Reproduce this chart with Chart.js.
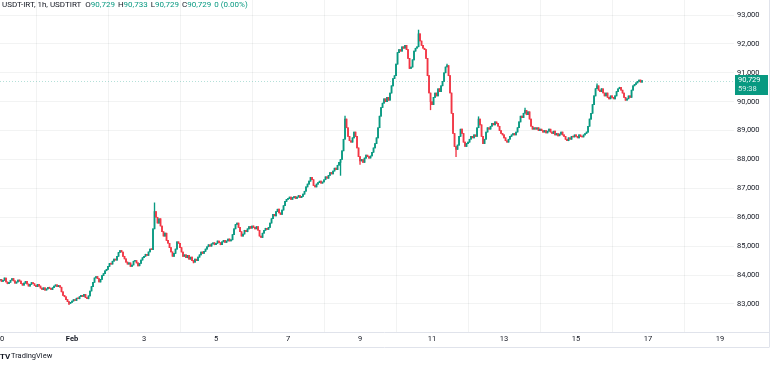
<!DOCTYPE html>
<html>
<head>
<meta charset="utf-8">
<script src="https://cdn.jsdelivr.net/npm/chart.js@4.4.1/dist/chart.umd.min.js"></script>
<style>
    html, body { margin: 0; padding: 0; background: #fff; }
    #wrap { position: relative; width: 781px; height: 365px; }
</style>
</head>
<body>
<div id="wrap"><canvas id="candles" width="781" height="365"></canvas></div>
<script>
// x axis is in hours from Jan 30 00:00, one candle per hour
const tickHours = [0, 48, 96, 144, 192, 240, 288, 336, 384, 432, 480];
const tickLabels = ['30', 'Feb', '3', '5', '7', '9', '11', '13', '15', '17', '19'];
const priceTicks = [83000, 84000, 85000, 86000, 87000, 88000, 89000, 90000, 91000, 92000, 93000];

// hourly closes, one row per day (Jan 30 .. Feb 16)
const jan30 = [83850, 83780, 83820, 83900, 83760, 83700, 83750, 83820, 83880, 83800, 83720, 83760, 83830, 83790, 83700, 83650, 83720, 83780, 83690, 83620, 83680, 83740, 83700, 83640];
const jan31 = [83600, 83680, 83620, 83550, 83500, 83560, 83480, 83520, 83580, 83540, 83500, 83560, 83620, 83660, 83600, 83640, 83580, 83420, 83300, 83250, 83150, 83080, 83020, 83050];
const feb01 = [83100, 83150, 83120, 83200, 83180, 83250, 83300, 83260, 83330, 83220, 83180, 83280, 83450, 83600, 83750, 83900, 83950, 83880, 83760, 83850, 83980, 84050, 84150, 84200];
const feb02 = [84300, 84400, 84380, 84480, 84550, 84520, 84650, 84780, 84850, 84800, 84650, 84560, 84450, 84380, 84420, 84300, 84350, 84480, 84500, 84420, 84320, 84400, 84520, 84600];
const feb03 = [84650, 84720, 84680, 84800, 84900, 84880, 85600, 86200, 86000, 85800, 85950, 85700, 85500, 85350, 85450, 85200, 85100, 84950, 84800, 84650, 84750, 84900, 85150, 85100];
const feb04 = [84950, 84800, 84650, 84700, 84600, 84680, 84550, 84620, 84500, 84450, 84550, 84500, 84620, 84700, 84800, 84750, 84820, 84900, 84980, 85050, 85000, 85080, 85120, 85050];
const feb05 = [85100, 85180, 85120, 85050, 85150, 85200, 85130, 85180, 85250, 85180, 85220, 85400, 85600, 85750, 85800, 85650, 85500, 85350, 85420, 85550, 85500, 85600, 85680, 85620];
const feb06 = [85700, 85650, 85600, 85680, 85550, 85350, 85300, 85450, 85550, 85620, 85580, 85650, 85800, 85950, 86100, 86050, 86200, 86280, 86150, 86100, 86250, 86400, 86550, 86620];
const feb07 = [86650, 86700, 86620, 86680, 86720, 86650, 86700, 86750, 86680, 86720, 86800, 86900, 87050, 87150, 87250, 87380, 87300, 87100, 87050, 87150, 87200, 87250, 87180, 87220];
const feb08 = [87300, 87400, 87350, 87450, 87550, 87500, 87600, 87700, 87650, 87800, 87900, 88000, 88300, 88700, 89400, 89100, 88800, 88650, 88600, 88750, 88950, 88800, 88400, 88100];
const feb09 = [87950, 88000, 87900, 88050, 88150, 88100, 88050, 88120, 88250, 88400, 88550, 88750, 89100, 89500, 89800, 89950, 90100, 90000, 90150, 90050, 90300, 90550, 90800, 90900];
const feb10 = [91300, 91700, 91800, 91750, 91900, 91850, 91950, 91800, 91500, 91150, 91200, 91450, 91750, 91850, 91900, 92350, 92100, 91950, 91850, 91800, 91500, 90900, 90300, 90000];
const feb11 = [89900, 90150, 90300, 90200, 90450, 90350, 90550, 90700, 91000, 91200, 91250, 90900, 90300, 89600, 88900, 88450, 88350, 88500, 88800, 89050, 88900, 88600, 88450, 88550];
const feb12 = [88600, 88700, 88800, 88750, 88850, 88800, 89100, 89400, 89200, 88800, 88550, 88700, 88950, 89100, 89050, 89150, 89250, 89200, 89300, 89250, 89150, 89000, 88900, 88850];
const feb13 = [88750, 88650, 88600, 88700, 88800, 88850, 88900, 88850, 88950, 89100, 89300, 89500, 89450, 89600, 89700, 89550, 89650, 89400, 89150, 89050, 89100, 89050, 89100, 89000];
const feb14 = [89050, 89000, 88950, 89000, 88920, 88980, 89050, 88950, 88900, 88980, 88850, 88900, 88820, 88880, 88950, 88850, 88800, 88700, 88650, 88750, 88700, 88800, 88780, 88850];
const feb15 = [88800, 88750, 88850, 88800, 88780, 88850, 88900, 88950, 89150, 89400, 89600, 89900, 90200, 90450, 90550, 90400, 90350, 90450, 90300, 90200, 90300, 90150, 90100, 90200];
const feb16 = [90150, 90100, 90200, 90350, 90450, 90500, 90400, 90300, 90150, 90050, 90100, 90200, 90150, 90400, 90550, 90600, 90650, 90700, 90750, 90680, 90729];

const firstOpen = 83820;
// visible wick spikes: [hour, high, low]
const wicks = [
    [46, null, 82980], [103, 86500, null], [129, null, 84420], [227, null, 87450],
    [230, 89500, null], [240, null, 87830], [279, 92480, null], [287, null, 89720],
    [298, 91300, null], [304, null, 88100], [319, 89480, null], [350, 89780, null],
    [398, 90620, null],
];

const lastPrice = 90729;
const countdown = '59:38';
const upColor = '#089981';
const downColor = '#f23645';

const closes = [jan30, jan31, feb01, feb02, feb03, feb04, feb05, feb06, feb07, feb08,
    feb09, feb10, feb11, feb12, feb13, feb14, feb15, feb16].flat();

const candles = closes.map((c, i) => {
    const o = i === 0 ? firstOpen : closes[i - 1];
    let h = Math.max(o, c);
    let l = Math.min(o, c);
    const w = wicks.find(k => k[0] === i);
    if (w) {
        if (w[1]) h = w[1];
        if (w[2]) l = w[2];
    }
    return { x: i, o, h, l, c };
});
const candleColors = candles.map(k => (k.c >= k.o ? upColor : downColor));

const fmt = v => v.toLocaleString('en-US');
const gridColor = 'rgba(42,46,57,0.06)';
const font = 'Roboto';

const decorations = {
    id: 'decorations',
    afterDraw(chart) {
        const { ctx, chartArea: a } = chart;
        const y = chart.scales.y;
        ctx.save();

        // frame lines around the time and price axes
        ctx.strokeStyle = '#e0e3eb';
        ctx.lineWidth = 1;
        ctx.beginPath();
        ctx.moveTo(0, a.bottom + 0.5); ctx.lineTo(769, a.bottom + 0.5);
        ctx.moveTo(0, 347.5); ctx.lineTo(769, 347.5);
        ctx.moveTo(769.5, 0); ctx.lineTo(769.5, 347.5);
        ctx.stroke();

        // last price line and label
        const py = Math.round(y.getPixelForValue(lastPrice));
        ctx.strokeStyle = 'rgba(8,153,129,0.3)';
        ctx.setLineDash([1, 2]);
        ctx.beginPath();
        ctx.moveTo(a.left, py + 0.5); ctx.lineTo(a.right, py + 0.5);
        ctx.stroke();
        ctx.setLineDash([]);
        ctx.fillStyle = upColor;
        ctx.fillRect(735, py - 6, 33, 20);
        ctx.fillStyle = '#fff';
        ctx.textBaseline = 'middle';
        ctx.textAlign = 'left';
        ctx.font = `7.5px ${font}`;
        ctx.fillText(fmt(lastPrice), 738, py - 0.5);
        ctx.fillStyle = 'rgba(255,255,255,0.85)';
        ctx.fillText(countdown, 738, py + 8.5);

        // legend line at the top
        let x = 2;
        const put = (t, color) => {
            ctx.fillStyle = color;
            ctx.fillText(t, x, 5);
            x += ctx.measureText(t).width;
        };
        ctx.font = `8px ${font}`;
        put('USDT-IRT, 1h, USDTIRT', '#131722');
        x += 4;
        [['O', '90,729'], ['H', '90,733'], ['L', '90,729'], ['C', '90,729']].forEach(([k, v]) => {
            put(k, '#131722');
            put(v, upColor);
            x += 3;
        });
        put('0 (0.00%)', upColor);

        // footer logo
        ctx.fillStyle = '#131722';
        ctx.font = `bold 8px ${font}`;
        ctx.fillText('TV', 0, 356.5);
        ctx.font = `7.5px ${font}`;
        ctx.fillText('TradingView', 11, 356.5);
        ctx.restore();
    }
};

new Chart(document.getElementById('candles'), {
    type: 'bar',
    data: {
        datasets: [
            {
                label: 'body',
                data: candles.map(k => ({ x: k.x, y: [k.o, k.c] })),
                backgroundColor: candleColors,
                barThickness: 1,
                minBarLength: 1,
                borderWidth: 0,
                grouped: false,
                order: 0,
            },
            {
                label: 'wick',
                data: candles.map(k => ({ x: k.x, y: [k.l, k.h] })),
                backgroundColor: candleColors,
                barThickness: 0.7,
                borderWidth: 0,
                grouped: false,
                order: 1,
            }
        ]
    },
    options: {
        responsive: false,
        devicePixelRatio: 1,
        animation: false,
        layout: { padding: 0 },
        plugins: {
            legend: { display: false },
            tooltip: { enabled: false },
        },
        scales: {
            x: {
                type: 'linear',
                min: 0,
                max: 489.3,
                offset: false,
                position: 'bottom',
                grid: { color: gridColor, drawTicks: false },
                border: { display: false },
                afterBuildTicks: s => { s.ticks = tickHours.map(v => ({ value: v })); },
                afterFit: s => { s.height = 33; s.paddingLeft = 0; s.paddingRight = 0; },
                ticks: {
                    autoSkip: false,
                    maxRotation: 0,
                    padding: 3,
                    color: '#131722',
                    font: c => ({ family: font, size: 7.5, weight: c.tick && c.tick.value === 48 ? 'bold' : 'normal' }),
                    callback: v => tickLabels[tickHours.indexOf(v)] ?? '',
                }
            },
            y: {
                position: 'right',
                min: 82030,
                max: 93520,
                grid: { color: gridColor, drawTicks: false },
                border: { display: false },
                afterBuildTicks: s => { s.ticks = priceTicks.map(v => ({ value: v })); },
                afterFit: s => { s.width = 47; s.paddingTop = 0; s.paddingBottom = 0; },
                ticks: {
                    autoSkip: false,
                    padding: 3,
                    color: '#131722',
                    font: { family: font, size: 7.5 },
                    callback: v => fmt(v),
                }
            }
        }
    },
    plugins: [decorations]
});
</script>
</body>
</html>
